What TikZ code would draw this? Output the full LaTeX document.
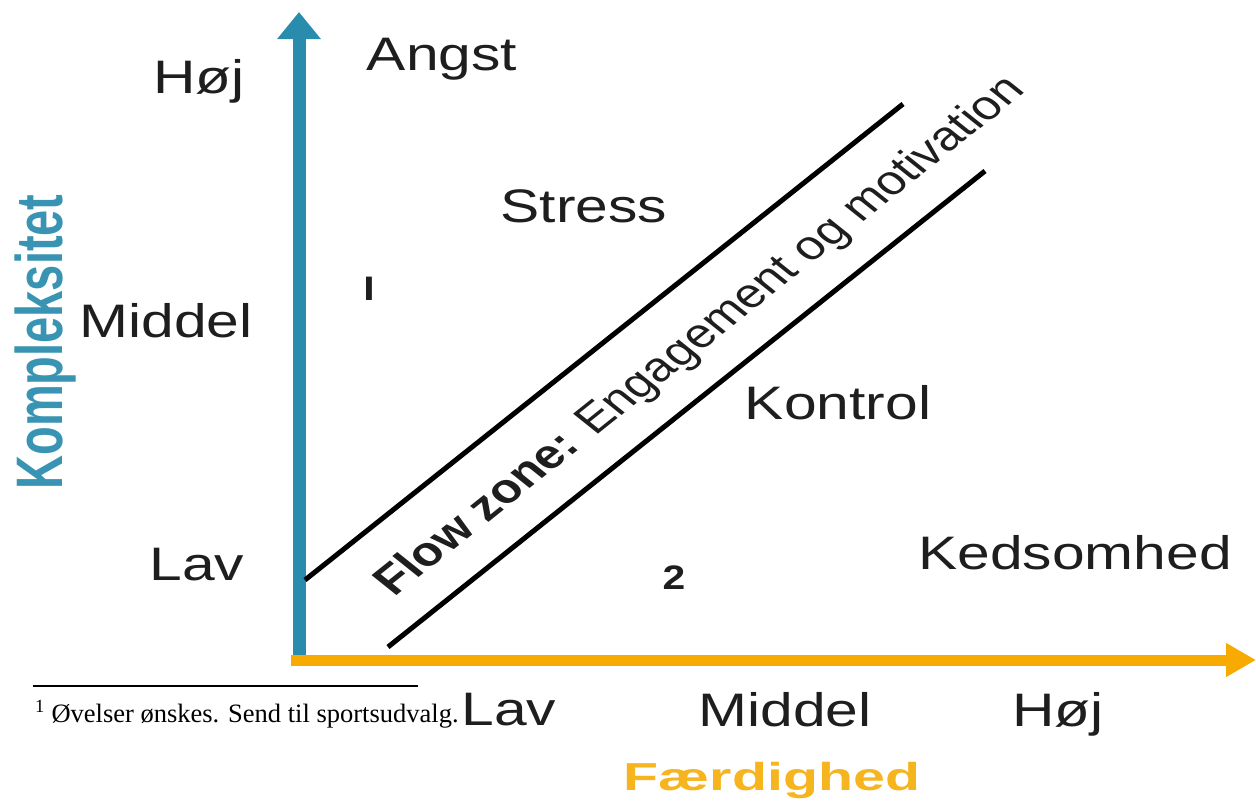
\documentclass[tikz,border=0pt]{standalone}
\usepackage{fontspec}
\setmainfont{Liberation Serif}
\newfontfamily\arialf{Liberation Sans}
\usetikzlibrary{arrows.meta}
\definecolor{axblue}{RGB}{42,140,172}
\definecolor{kblue}{RGB}{56,148,178}
\definecolor{axorange}{RGB}{247,170,0}
\definecolor{forange}{RGB}{246,180,30}
\definecolor{txt}{RGB}{30,30,30}
\begin{document}
\begin{tikzpicture}[x=1pt,y=-1pt,
  lab/.style={font=\arialf\fontsize{47}{50}\selectfont, text=txt, inner sep=0pt, anchor=base, xscale=1.25},
  small/.style={font=\arialf\bfseries\fontsize{34}{36}\selectfont, text=txt, inner sep=0pt, anchor=base, xscale=1.2},
  diag/.style={line width=5pt, black},
  flowtxt/.style={font=\arialf\fontsize{41}{44}\selectfont, text=txt, inner sep=0pt, rotate=45, transform shape}
]
\useasboundingbox (0,0) rectangle (1256,803);
% axes
\coordinate (O) at (299,660);
\coordinate (Ytop) at (299,12);
\coordinate (Ostart) at (291,660);
\coordinate (Xend) at (1256,660);
\draw[axblue, line width=13pt, -{Triangle[width=42pt,length=27pt]}] (O) -- (Ytop);
\draw[axorange, line width=11pt, -{Triangle[width=32pt,length=30pt]}] (Ostart) -- (Xend);
% flow zone lines
\coordinate (u1) at (305,580);
\coordinate (u2) at (903,104);
\coordinate (l1) at (388,647);
\coordinate (l2) at (985,171);
\draw[diag] (u1) -- (u2);
\draw[diag] (l1) -- (l2);
\begin{scope}[xscale=1.25]
\node[flowtxt] (flow) at (561,337) {\textbf{Flow zone:} Engagement og motivation};
\end{scope}
% y labels
\node[lab] (yhoj) at (199,93) {Høj};
\node[lab] (ymid) at (166,337) {Middel};
\node[lab] (ylav) at (197,580) {Lav};
% x labels
\node[lab] (xlav) at (509,725) {Lav};
\node[lab] (xmid) at (785,726) {Middel};
\node[lab] (xhoj) at (1058,726) {Høj};
% region labels
\node[lab] (angst) at (442,70) {Angst};
\node[lab] (stress) at (584,222) {Stress};
\node[lab] (kontrol) at (838,419) {Kontrol};
\node[lab] (keds) at (1075,569) {Kedsomhed};
\node[small] (two) at (674,589) {2};
\node[small] (one) at (369,300) {I};
% axis titles
\node[font=\arialf\bfseries\fontsize{47}{50}\selectfont, text=kblue, inner sep=0pt, anchor=base, rotate=90] (ktitle) at (62,342) {\scalebox{1}[1.4]{Kompleksitet}};
\node[font=\arialf\bfseries\fontsize{39}{42}\selectfont, text=forange, inner sep=0pt, anchor=base, xscale=1.47] (ftitle) at (772,790) {Færdighed};
% footnote
\coordinate (r1) at (33,686);
\coordinate (r2) at (418,686);
\draw[line width=1.3pt] (r1) -- (r2);
\node[font=\fontsize{26.5}{30}\selectfont, inner sep=0pt, anchor=base west] (fn) at (35,722) {\textsuperscript{1} Øvelser ønskes. Send til sportsudvalg.};
\end{tikzpicture}
\end{document}
